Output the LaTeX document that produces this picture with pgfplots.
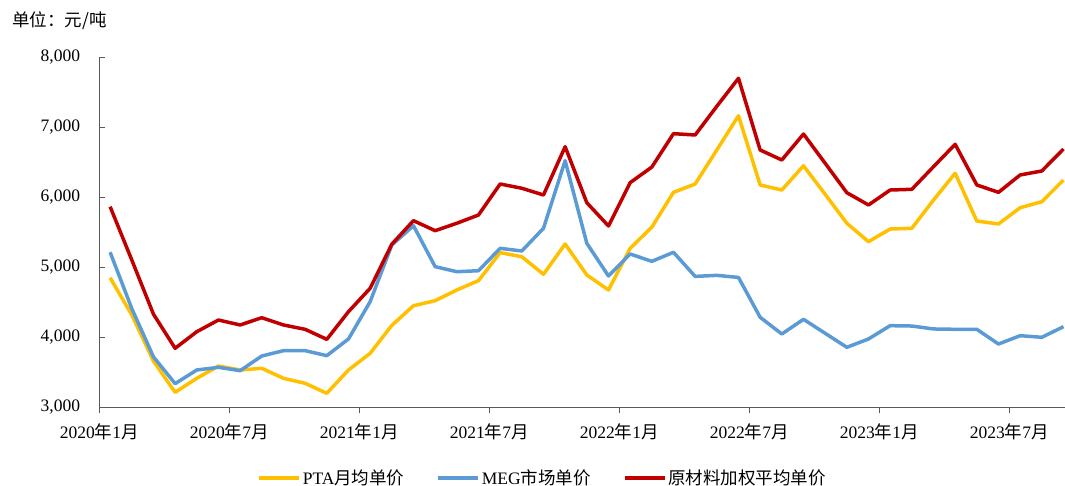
\documentclass[border=0pt]{standalone}
\usepackage{fontspec}
\setmainfont{Liberation Serif}
\newfontfamily\cjk{Noto Sans CJK SC}
\usepackage{pgfplots}
\pgfplotsset{compat=1.18}
\usepackage{pgfplotstable}
\definecolor{cPTA}{HTML}{FFC000}
\definecolor{cMEG}{HTML}{5B9BD5}
\definecolor{cRAW}{HTML}{C00000}
\definecolor{axgray}{HTML}{595959}

\pgfplotstableread{
i pta meg raw
0 4850 5215 5866
1 4320 4410 5104
2 3660 3720 4330
3 3214 3338 3843
4 3414 3533 4080
5 3590 3571 4247
6 3533 3523 4176
7 3557 3733 4280
8 3414 3809 4176
9 3343 3809 4114
10 3200 3738 3971
11 3533 3976 4366
12 3771 4509 4700
13 4170 5318 5330
14 4451 5594 5666
15 4523 5009 5523
16 4676 4937 5629
17 4809 4951 5747
18 5209 5271 6190
19 5151 5233 6129
20 4900 5557 6033
21 5333 6523 6723
22 4890 5343 5923
23 4676 4876 5590
24 5271 5190 6209
25 5573 5085 6432
26 6071 5214 6909
27 6190 4870 6890
28 6676 4885 7300
29 7165 4855 7700
30 6176 4286 6676
31 6104 4047 6533
32 6450 4257 6904
33 6043 4057 6486
34 5629 3857 6066
35 5366 3976 5890
36 5547 4166 6104
37 5557 4161 6114
38 5961 4119 6437
39 6343 4114 6757
40 5661 4114 6176
41 5619 3904 6071
42 5851 4023 6319
43 5937 4000 6376
44 6247 4152 6690
}\data

\begin{document}
\fontsize{17.5}{20}\selectfont
\begin{tikzpicture}
\path[use as bounding box] (-99.3pt,-78.7pt) rectangle (965.7pt,407.3pt);
\node[anchor=west, inner sep=0pt] at (-87.3pt,386.8pt) {\cjk 单位：元/吨};
\begin{axis}[
  scale only axis, width=965.7pt, height=350pt,
  xmin=-0.5, xmax=44.07, ymin=3000, ymax=8000,
  axis x line*=bottom, axis y line*=left,
  axis line style={draw=axgray, line width=1.5pt},
  every tick/.style={draw=axgray, line width=1.5pt},
  tick align=outside, major tick length=6pt,
  ytick style={xshift=6pt},
  xtick={-0.5,5.5,11.5,17.5,23.5,29.5,35.5,41.5},
  xticklabels={2020{\cjk 年}1{\cjk 月},2020{\cjk 年}7{\cjk 月},2021{\cjk 年}1{\cjk 月},2021{\cjk 年}7{\cjk 月},2022{\cjk 年}1{\cjk 月},2022{\cjk 年}7{\cjk 月},2023{\cjk 年}1{\cjk 月},2023{\cjk 年}7{\cjk 月}},
  ytick={3000,4000,5000,6000,7000,8000},
  scaled y ticks=false,
  /pgf/number format/1000 sep={,},
  /pgf/number format/assume math mode=true,
  tick label style={font=\fontsize{17.5}{20}\selectfont, inner sep=0pt},
  xticklabel style={yshift=-10pt},
  yticklabel style={xshift=-13pt},
  legend columns=3,
  legend style={at={(0.459,-0.202)}, anchor=center, draw=none, fill=none,
    font=\fontsize{17.5}{20}\selectfont,
    /tikz/every even column/.append style={column sep=30pt}},
  legend image code/.code={\draw[#1] (0pt,0pt) -- (40pt,0pt);},
  every axis plot/.append style={line width=3.5pt, line join=round},
]
\addplot[cPTA, no markers] table[x=i, y=pta] {\data};
\addlegendentry{PTA{\cjk 月均单价}}
\addplot[cMEG, no markers] table[x=i, y=meg] {\data};
\addlegendentry{MEG{\cjk 市场单价}}
\addplot[cRAW, no markers] table[x=i, y=raw] {\data};
\addlegendentry{{\cjk 原材料加权平均单价}}
\end{axis}
\end{tikzpicture}
\end{document}
